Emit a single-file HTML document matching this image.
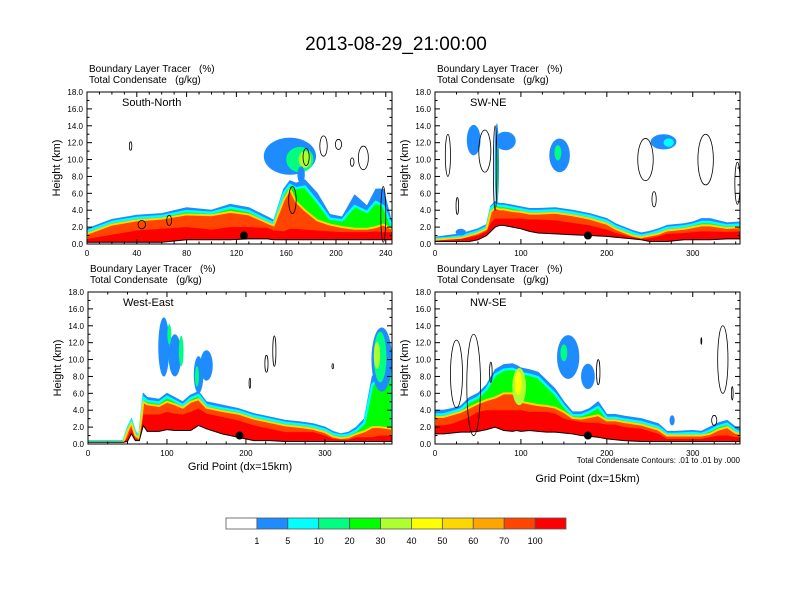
<!DOCTYPE html>
<html><head><meta charset="utf-8"><style>
body{margin:0;background:#fff;}
svg{display:block;font-family:"Liberation Sans",sans-serif;}
</style></head><body>
<svg id="chart" width="792" height="612" viewBox="0 0 792 612">
<text x="396" y="50" font-size="19" text-anchor="middle">2013-08-29_21:00:00</text>
<g id="panels"></g>
<g id="colorbar"></g>
</svg>
<script>
// ---------- data ----------
const levelLabels = ["1","5","10","20","30","40","50","60","70","100"];
const levelColors = ["#ffffff","#1e8cff","#00ffff","#00ff80","#00ff00","#adff2f","#ffff00","#ffd700","#ffa500","#ff4500","#ff0000"];

const tlName = "South-North";
const tlMax = 245;
const tlTicks = [0,40,80,120,160,200,240];
const tlGx = [0,20,40,60,80,100,115,130,145,150,158,163,168,175,185,195,205,215,225,232,238,245];
const tlTerrain = [0.2,0.2,0.2,0.2,0.5,0.5,0.5,0.6,0.6,0.5,0.5,0.5,0.5,0.5,0.5,0.5,0.5,0.5,0.5,0.5,0.5,0.5];
const tlTop1 = [1.8,2.9,3.4,3.6,4.3,4.0,4.7,4.3,3.2,2.8,6.5,7.5,7.2,7.6,6.0,3.5,3.2,5.8,4.5,6.5,6.5,2.4];
const tlTop20 = [1.5,2.6,3.1,3.3,3.9,3.7,4.3,3.9,2.8,2.5,6.0,7.0,6.6,6.8,5.0,3.0,2.8,4.5,3.8,5.0,4.5,2.1];
const tlTop70 = [1.2,2.3,2.8,3.0,3.5,3.4,3.8,3.5,2.5,2.2,5.2,6.5,5.0,4.0,2.8,2.3,2.0,1.8,1.8,2.0,2.3,1.8];
const tlTop100 = [0.6,1.1,1.6,1.8,2.0,1.7,2.0,2.0,1.9,1.6,1.5,1.8,1.8,1.7,1.6,1.5,1.4,1.4,1.4,1.5,1.4,1.4];
const tlBlobs = [[163,10.4,21,2.2,1],[171,10.0,11,1.5,3],[175,10.0,5,1.0,5],[172,8.2,3,1.0,1]];
const tlContours = [[35,11.6,1,0.5],[190,11.6,3,1.2],[202,11.8,2.5,0.6],[213,9.7,1.5,0.5],[222,10.2,4,1.4],[165,5.2,3,1.6],[176,10.3,2.5,1],[238,3.5,2,3.3],[44,2.3,3,0.5],[66,2.8,2,0.6]];
const tlDot = [126,1.0];

const trName = "SW-NE";
const trMax = 355;
const trTicks = [0,100,200,300];
const trGx = [0,15,30,40,50,60,65,70,75,80,90,100,110,120,140,160,180,200,210,230,240,250,260,270,290,300,310,320,340,355];
const trTerrain = [0.3,0.3,0.3,0.3,0.5,1.0,1.5,2.0,2.2,2.2,2.0,1.8,1.5,1.3,1.2,1.1,1.0,0.9,0.8,0.6,0.5,0.3,0.3,0.3,0.5,0.5,0.5,0.5,0.6,0.6];
const trTop1 = [0.8,1.0,1.2,1.5,1.8,2.3,4.5,5.0,4.8,4.8,4.6,4.4,4.2,4.2,4.3,4.0,3.6,3.0,2.4,1.6,1.3,1.5,1.8,2.2,2.4,2.6,3.0,3.0,2.5,2.6];
const trTop20 = [0.6,0.7,0.9,1.2,1.5,2.0,4.2,4.7,4.5,4.5,4.3,4.1,3.9,3.9,4.0,3.7,3.3,2.7,2.1,1.3,1.0,1.2,1.5,1.9,2.1,2.3,2.6,2.6,2.2,2.3];
const trTop70 = [0.5,0.6,0.7,1.0,1.3,1.8,3.8,4.3,4.1,4.1,3.9,3.8,3.6,3.6,3.7,3.4,3.0,2.4,1.8,1.0,0.8,1.0,1.2,1.6,1.8,2.0,2.2,2.2,1.9,2.0];
const trTop100 = [0.4,0.5,0.6,0.8,1.0,1.5,2.5,3.0,3.0,3.0,3.0,3.0,2.9,2.9,2.8,2.5,2.2,1.7,1.3,0.8,0.6,0.7,0.9,1.2,1.3,1.4,1.5,1.5,1.4,1.5];
const trBlobs = [[45,12.3,8,1.8,1],[82,12.2,12,1.1,1],[145,10.5,12,2.0,1],[143,10.8,4,0.9,3],[266,12.1,15,0.9,1],[272,12.0,6,0.5,2],[72,9.5,2.5,4.8,1],[72,8.5,1.2,3.5,3],[30,1.4,6,0.4,1]];
const trContours = [[15,10.5,3,2.5],[58,11,7,2.5],[245,10,9,2.5],[315,10,9,3],[352,7.2,3,2.5],[255,5.3,2.5,0.9],[26,4.5,1.5,1],[70,9,2,5]];
const trDot = [178,1.0];

const blName = "West-East";
const blMax = 385;
const blTicks = [0,100,200,300];
const blGx = [0,45,50,55,60,65,70,75,90,100,110,120,130,140,150,170,190,210,230,250,270,285,300,310,320,330,340,350,360,370,385];
const blTerrain = [0.2,0.2,0.3,1.2,0.4,0.4,2.2,1.5,1.5,1.7,1.6,1.6,1.6,2.2,1.8,1.2,0.8,0.4,0.4,0.3,0.3,0.3,0.3,0.3,0.3,0.3,0.3,0.3,0.3,0.3,0.3];
const blTop1 = [0.4,0.4,2.0,3.0,1.5,1.0,6.0,5.5,5.3,6.0,5.5,5.0,5.8,6.2,5.0,4.6,4.2,3.6,3.2,2.8,2.6,2.4,2.0,1.5,1.2,1.4,2.0,3.0,8.0,9.0,10.0];
const blTop20 = [0.3,0.3,1.8,2.8,1.3,0.9,5.5,5.1,4.9,5.6,5.1,4.6,5.4,5.8,4.6,4.2,3.9,3.3,2.9,2.5,2.3,2.1,1.7,1.2,1.0,1.1,1.6,2.5,7.0,8.0,9.0];
const blTop70 = [0.2,0.2,1.5,2.5,1.0,0.7,5.0,4.7,4.5,5.0,4.7,4.3,5.0,5.3,4.3,3.9,3.6,3.0,2.6,2.2,2.0,1.8,1.4,0.9,0.7,0.8,1.2,1.5,2.0,2.0,1.8];
const blTop100 = [0.2,0.2,0.8,1.8,0.6,0.5,3.5,3.5,3.5,3.8,3.6,3.5,3.8,4.2,3.6,3.2,2.8,2.2,1.8,1.4,1.4,1.4,1.0,0.6,0.5,0.5,0.8,0.8,0.8,1.0,1.0];
const blBlobs = [[96,11.5,7,3.5,1],[110,10.5,8,2.5,1],[103,13,2.5,1.2,3],[118,11,3,1.8,3],[140,8.2,6,2.2,1],[150,9.3,8,1.8,1],[138,8,2.5,1.2,3],[372,10,13,3.8,1],[370,10.3,8,3,3],[366,10.5,4,1.6,5]];
const blContours = [[226,9.5,2,1],[236,11,2,1.8],[205,7.2,1,0.6],[310,9.2,1,0.3]];
const blDot = [192,1.0];

const brName = "NW-SE";
const brMax = 355;
const brTicks = [0,100,200,300];
const brGx = [0,10,20,30,40,50,60,70,80,90,95,100,110,120,130,140,150,160,170,180,190,200,210,220,240,260,270,280,300,310,320,330,340,350,355];
const brTerrain = [1.2,1.2,1.3,1.4,1.4,1.5,1.7,2.0,1.6,1.5,1.6,1.5,1.6,1.5,1.4,1.4,1.3,1.2,1.0,0.9,0.8,0.6,0.5,0.4,0.3,0.3,0.3,0.3,0.3,0.3,0.3,0.3,0.3,0.3,0.3];
const brTop1 = [4.0,4.0,4.2,4.5,5.5,6.0,7.0,8.8,9.4,9.5,9.3,9.0,8.8,8.5,7.5,6.5,5.0,3.8,3.8,4.2,5.0,3.5,3.5,3.3,3.0,2.4,1.5,1.5,1.6,1.5,2.0,2.5,2.8,2.0,1.8];
const brTop20 = [3.5,3.5,3.8,4.1,5.0,5.5,6.5,8.2,8.8,8.9,8.7,8.4,8.2,7.9,6.9,5.9,4.5,3.4,3.4,3.8,4.4,3.1,3.1,2.9,2.6,2.0,1.2,1.2,1.3,1.2,1.6,2.1,2.4,1.6,1.4];
const brTop70 = [3.2,3.2,3.5,3.8,4.3,4.8,5.2,5.5,6.0,6.0,5.5,5.0,4.8,4.6,4.5,4.3,3.8,3.1,3.0,3.2,3.4,2.8,2.8,2.6,2.3,1.7,1.0,1.0,1.0,1.0,1.2,1.7,2.0,1.3,1.2];
const brTop100 = [2.2,2.2,2.4,2.8,3.2,3.8,4.0,4.0,4.0,4.0,4.0,4.0,3.8,3.8,3.8,3.6,3.0,2.8,2.6,2.5,2.5,2.3,2.3,2.0,1.8,1.2,0.6,0.6,0.6,0.6,0.8,1.0,1.0,0.8,0.8];
const brBlobs = [[155,10.3,13,2.6,1],[150,10.8,4,1.0,3],[178,8.0,8,1.5,1],[98,6.8,8,2.2,5],[97,7.2,4,1.4,6],[276,2.8,3,0.6,1]];
const brContours = [[25,8.3,7,4],[45,7,8,6],[190,8.5,2,1.5],[65,8.5,1.5,1.2],[335,10,6,4],[310,12.2,0.5,0.4],[346,6,1,0.8],[325,2.8,3,0.6]];
const brDot = [178,1.0];

// ---------- rendering ----------
const NS = "http://www.w3.org/2000/svg";
const root = document.getElementById('panels');
function mk(tag, attrs, parent){ const e=document.createElementNS(NS,tag); for(const k in attrs) e.setAttribute(k,attrs[k]); (parent||root).appendChild(e); return e; }

function drawPanel(id, x0, y0, x1, y1, name, maxG, ticks, gx, terrain, t1, t20, t70, t100, blobs, contours, dot, showGridTitle, extraNote){
  const g = mk('g',{});
  
  
  const xs = v => x0 + (v/maxG)*(x1-x0);
  const ys = h => y1 - (h/18)*(y1-y0);
  const clipId = 'clip-'+id;
  const cp = mk('clipPath',{id:clipId},g); mk('rect',{x:x0,y:y0,width:x1-x0,height:y1-y0},cp);
  const plot = mk('g',{'clip-path':'url(#'+clipId+')'},g);
  function layer(tops, fill, stroke, sw, lname){
    let d = 'M'+xs(gx[0])+','+ys(terrain[0]);
    for(let i=0;i<gx.length;i++) d += ' L'+xs(gx[i])+','+ys(tops[i]);
    for(let i=gx.length-1;i>=0;i--) d += ' L'+xs(gx[i])+','+ys(terrain[i]);
    const p = mk('path',{d:d+'Z',fill:fill,stroke:stroke,'stroke-width':sw,'stroke-linejoin':'round'},plot);
    
    
  }
  layer(t1,'#1e8cff','#1e8cff',1,'tracer-layer-1');
  layer(t20,'#00ff00','#00ffff',2.5,'tracer-layer-20');
  layer(t70,'#ff4500','#ffd700',2,'tracer-layer-70');
  layer(t100,'#ff0000','none',0,'tracer-layer-100');
  blobs.forEach(b=>{
    const e = mk('ellipse',{cx:xs(b[0]),cy:ys(b[1]),rx:(b[2]/maxG)*(x1-x0),ry:(b[3]/18)*(y1-y0),fill:levelColors[b[4]]},plot);
    
    
  });
  let td = '';
  for(let i=0;i<gx.length;i++) td += (i?' L':'M')+xs(gx[i])+','+ys(terrain[i]);
  mk('path',{d:'M'+x0+','+ys(terrain[0])+' '+td.slice(1)+' L'+x1+','+y1+' L'+x0+','+y1+'Z',fill:'#fff',stroke:'none'},plot);
  const tl = mk('path',{d:td,fill:'none',stroke:'#000','stroke-width':1},plot);
  
  
  contours.forEach(c=>{
    const e = mk('ellipse',{cx:xs(c[0]),cy:ys(c[1]),rx:(c[2]/maxG)*(x1-x0),ry:(c[3]/18)*(y1-y0),fill:'none',stroke:'#000','stroke-width':0.8},plot);
    
    
  });
  const dt = mk('circle',{cx:xs(dot[0]),cy:ys(dot[1]),r:4,fill:'#000'},plot);
  
  
  mk('rect',{x:x0,y:y0,width:x1-x0,height:y1-y0,fill:'none',stroke:'#000','stroke-width':1},g);
  for(let h=0;h<=18;h+=2){
    const y=ys(h);
    mk('line',{x1:x0,y1:y,x2:x0+5,y2:y,stroke:'#000'},g);
    mk('line',{x1:x1,y1:y,x2:x1-5,y2:y,stroke:'#000'},g);
    const t = mk('text',{x:x0-4,y:y+3,'font-size':8,'text-anchor':'end'},g);
    t.textContent = h.toFixed(1);
    
    
  }
  for(let h=1;h<18;h+=2){ const y=ys(h); mk('line',{x1:x0,y1:y,x2:x0+2.5,y2:y,stroke:'#000'},g); mk('line',{x1:x1,y1:y,x2:x1-2.5,y2:y,stroke:'#000'},g); }
  const step = ticks[1]-ticks[0];
  for(let v=0; v<=maxG; v+=step/4){ const x=xs(v); const L=(v%step===0)?5:2.5;
    mk('line',{x1:x,y1:y1,x2:x,y2:y1-L,stroke:'#000'},g); mk('line',{x1:x,y1:y0,x2:x,y2:y0+L,stroke:'#000'},g); }
  ticks.forEach(v=>{
    const t = mk('text',{x:xs(v),y:y1+12,'font-size':8,'text-anchor':'middle'},g);
    t.textContent = v;
    
    
  });
  const yt = mk('text',{x:0,y:0,'font-size':11,'text-anchor':'middle',transform:'translate('+(x0-27)+','+((y0+y1)/2)+') rotate(-90)'},g);
  yt.textContent = 'Height (km)';
  
  
  const nm = mk('text',{x:x0+35,y:y0+14,'font-size':11},g);
  nm.textContent = name;
  
  
  const l1 = mk('text',{x:x0+2,y:y0-20,'font-size':10},g);
  l1.textContent = 'Boundary Layer Tracer   (%)';
  l1.style.whiteSpace='pre';
  
  
  const l2 = mk('text',{x:x0+2,y:y0-9,'font-size':10},g);
  l2.textContent = 'Total Condensate   (g/kg)';
  l2.style.whiteSpace='pre';
  
  
  if(extraNote){
    const n = mk('text',{x:x1,y:y1+19,'font-size':8,'text-anchor':'end'},g);
    n.textContent = 'Total Condensate Contours: .01 to .01 by .000';
    
    
  }
  if(showGridTitle){
    const gt = mk('text',{x:(x0+x1)/2,y:y1+(extraNote?38:26),'font-size':11,'text-anchor':'middle'},g);
    gt.textContent = 'Grid Point (dx=15km)';
    
    
  }
}
drawPanel('south-north',87,92,392,244,tlName,tlMax,tlTicks,tlGx,tlTerrain,tlTop1,tlTop20,tlTop70,tlTop100,tlBlobs,tlContours,tlDot,false,false);
drawPanel('sw-ne',435,92,740,244,trName,trMax,trTicks,trGx,trTerrain,trTop1,trTop20,trTop70,trTop100,trBlobs,trContours,trDot,false,false);
drawPanel('west-east',88,292,392,444,blName,blMax,blTicks,blGx,blTerrain,blTop1,blTop20,blTop70,blTop100,blBlobs,blContours,blDot,true,false);
drawPanel('nw-se',435,292,740,444,brName,brMax,brTicks,brGx,brTerrain,brTop1,brTop20,brTop70,brTop100,brBlobs,brContours,brDot,true,true);

const cb = document.getElementById('colorbar');
const cbX0=226, cbX1=566, cbY=518, cbH=11;
const bw=(cbX1-cbX0)/levelColors.length;
levelColors.forEach((c,i)=>{
  const r = mk('rect',{x:cbX0+i*bw,y:cbY,width:bw,height:cbH,fill:c,stroke:'#555','stroke-width':0.8},cb);
  
  
});
levelLabels.forEach((l,i)=>{
  const t = mk('text',{x:cbX0+(i+1)*bw,y:544,'font-size':9,'text-anchor':'middle'},cb);
  t.textContent = l;
  
  
});
</script>
</body></html>
